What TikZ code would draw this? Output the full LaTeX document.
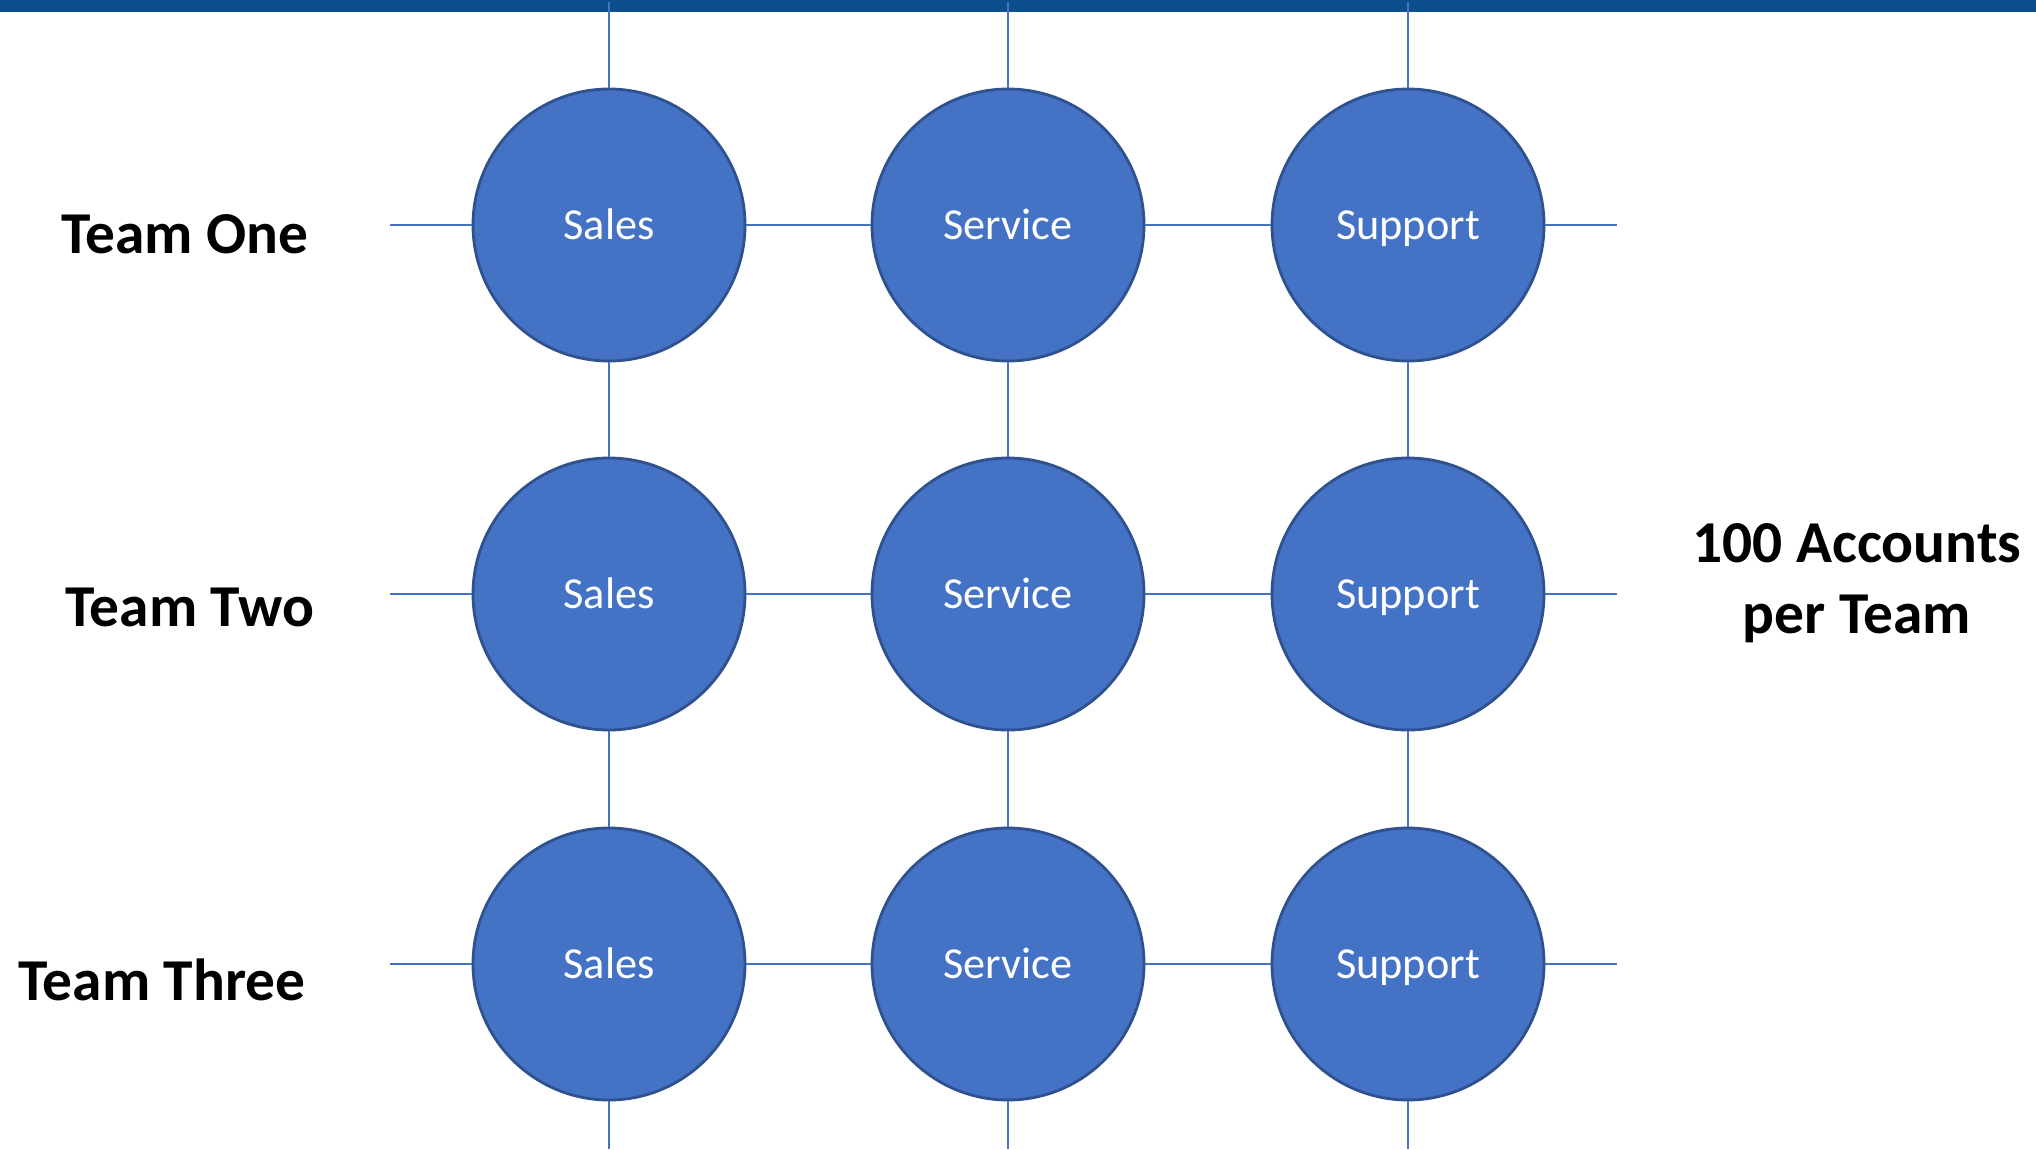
\documentclass[tikz,border=0pt]{standalone}
\usepackage{fontspec}
\setmainfont{Carlito}
\usepackage{tikz}

\definecolor{unitfill}{HTML}{4472C4}
\definecolor{unitedge}{HTML}{2F528F}
\definecolor{barblue}{HTML}{0B4F8C}

\begin{document}
\begin{tikzpicture}
					\tikzstyle{unit}=[circle,fill=unitfill,draw=unitedge,line width=0.8pt,minimum size=2.72cm,inner sep=0pt,text=white,text height=10pt,text depth=2pt,font=\fontsize{12.6}{15}\selectfont]
					\tikzstyle{team}=[font=\fontsize{16.9}{20.2}\selectfont\bfseries]
					\tikzstyle{link}=[draw=unitfill,line width=0.57pt]
					\useasboundingbox (0,0) rectangle (20.36,-11.49);
					\fill[barblue] (0,0) rectangle (20.36,-0.12);
					% team names
					\node[team] (team1) at (1.85,-2.34) {Team One};
					\node[team] (team2) at (1.90,-6.07) {Team Two};
					\node[team] (team3) at (1.62,-9.80) {Team Three};
					\node[team,align=center] (accounts) at (18.57,-5.83) {100 Accounts\\per Team};
					% the grid of units
					\node[unit] (s1) at (6.09,-2.25) {Sales};
					\node[unit] (v1) at (10.08,-2.25) {Service};
					\node[unit] (p1) at (14.08,-2.25) {Support};
					\node[unit] (s2) at (6.09,-5.94) {Sales};
					\node[unit] (v2) at (10.08,-5.94) {Service};
					\node[unit] (p2) at (14.08,-5.94) {Support};
					\node[unit] (s3) at (6.09,-9.64) {Sales};
					\node[unit] (v3) at (10.08,-9.64) {Service};
					\node[unit] (p3) at (14.08,-9.64) {Support};
					% loose ends of the lines
					\coordinate (l1) at (3.90,-2.25);
					\coordinate (l2) at (3.90,-5.94);
					\coordinate (l3) at (3.90,-9.64);
					\coordinate (r1) at (16.17,-2.25);
					\coordinate (r2) at (16.17,-5.94);
					\coordinate (r3) at (16.17,-9.64);
					\coordinate (t1) at (6.09,-0.02);
					\coordinate (t2) at (10.08,-0.02);
					\coordinate (t3) at (14.08,-0.02);
					\coordinate (b1) at (6.09,-11.49);
					\coordinate (b2) at (10.08,-11.49);
					\coordinate (b3) at (14.08,-11.49);
					% rows
					\draw[link] (l1) -- (s1);
					\draw[link] (s1) -- (v1);
					\draw[link] (v1) -- (p1);
					\draw[link] (p1) -- (r1);
					\draw[link] (l2) -- (s2);
					\draw[link] (s2) -- (v2);
					\draw[link] (v2) -- (p2);
					\draw[link] (p2) -- (r2);
					\draw[link] (l3) -- (s3);
					\draw[link] (s3) -- (v3);
					\draw[link] (v3) -- (p3);
					\draw[link] (p3) -- (r3);
					% columns
					\draw[link] (t1) -- (s1);
					\draw[link] (s1) -- (s2);
					\draw[link] (s2) -- (s3);
					\draw[link] (s3) -- (b1);
					\draw[link] (t2) -- (v1);
					\draw[link] (v1) -- (v2);
					\draw[link] (v2) -- (v3);
					\draw[link] (v3) -- (b2);
					\draw[link] (t3) -- (p1);
					\draw[link] (p1) -- (p2);
					\draw[link] (p2) -- (p3);
					\draw[link] (p3) -- (b3);
\end{tikzpicture}
\end{document}
